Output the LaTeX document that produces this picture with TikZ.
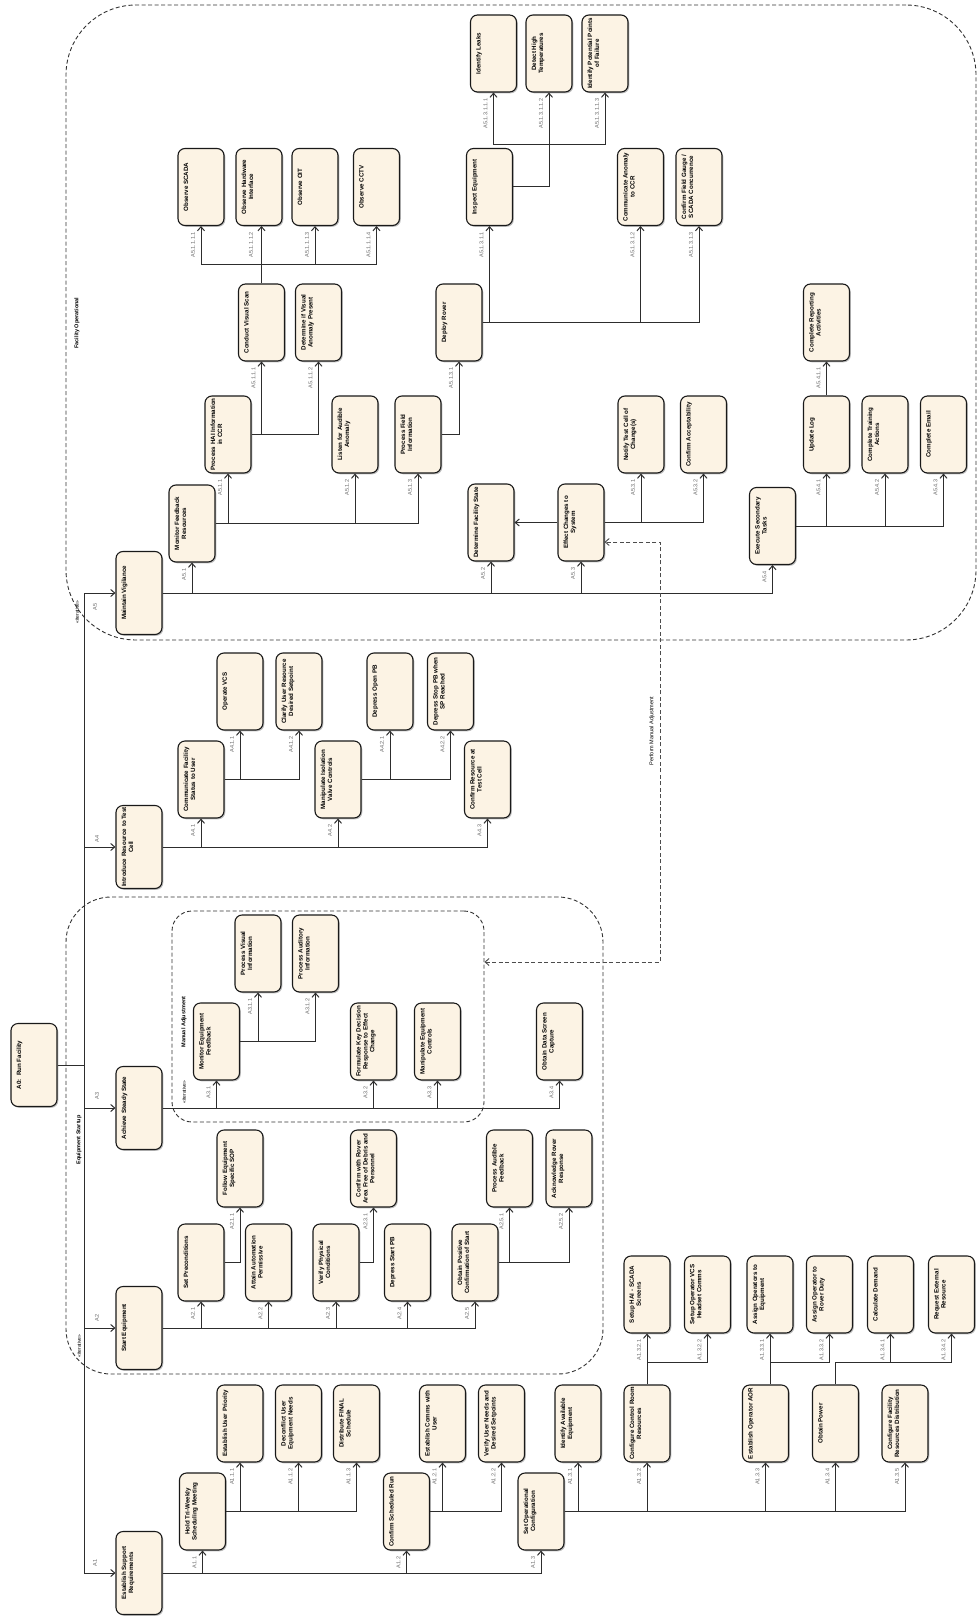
\documentclass[tikz,border=0pt]{standalone}
\usepackage{fontspec}
\setmainfont{Liberation Sans}
\usetikzlibrary{arrows.meta,shadows}
\definecolor{boxfill}{RGB}{252,243,228}
\definecolor{linec}{RGB}{45,45,45}
\definecolor{lblc}{RGB}{105,105,105}
\tikzset{
 actbox/.style={draw=black!90, line width=1.1pt, fill=boxfill, rounded corners=7pt, minimum width=46pt, minimum height=77pt, inner sep=0pt, drop shadow={shadow xshift=1.3pt, shadow yshift=-1.3pt, fill=black, opacity=0.25}},
 topbox/.style={actbox, minimum height=83pt},
 btext/.style={rotate=90, anchor=north, font=\fontsize{6.2}{6.9}\selectfont\bfseries, align=center, inner sep=0pt},
 conn/.style={draw=linec, line width=1pt, -{Straight Barb[length=4pt,width=7pt]}},
 plainln/.style={draw=linec, line width=1pt},
 dashconn/.style={draw=black!70, line width=0.9pt, dash pattern=on 4pt off 2.5pt, {Straight Barb[length=4pt,width=7pt]}-{Straight Barb[length=4pt,width=7pt]}},
 lbl/.style={rotate=90, anchor=east, font=\fontsize{5.5}{6}\selectfont, text=lblc, inner sep=0pt},
 grp/.style={draw=black!80, line width=0.9pt, dash pattern=on 4pt off 2.5pt, inner sep=0pt},
 grplbl/.style={rotate=90, font=\fontsize{5.5}{6}\selectfont\bfseries, inner sep=0pt},
 stereo/.style={rotate=90, font=\fontsize{5}{6}\selectfont, inner sep=0pt},
}
\newcommand\actnode[5]{%
 \node[#1] (#2) at (#3,#4) {};
 \node[btext] (#2t) at ([xshift=6pt]#2.west) {#5};
}
\newcommand\lab[2]{\node[lbl] (L#1) at ([xshift=-8pt,yshift=-6pt]#1.south) {#2};}
\begin{document}
\begin{tikzpicture}[x=1pt,y=-1pt]
\fill[white] (0,0) rectangle (977,1616);
\useasboundingbox (0,0) rectangle (977,1616);

% groups
\node[grp, minimum width=910pt, minimum height=635pt, rounded corners=70pt] (fo) at (521,322.5) {};
\node[grp, minimum width=537pt, minimum height=477pt, rounded corners=45pt] (es) at (334.5,1135.5) {};
\node[grp, minimum width=312pt, minimum height=211pt, rounded corners=20pt] (ma) at (328,1016.5) {};
\node[grplbl] (fol) at (77,323) {Facility Operational};
\node[grplbl] (esl) at (79,1140) {Equipment Startup};
\node[grplbl] (mal) at (184,1022) {Manual Adjustment};
\node[stereo] (fos) at (77,612) {«iterative»};
\node[stereo] (ess) at (79,1346) {«iterative»};
\node[stereo] (mas) at (184,1092) {«iterative»};
\node[rotate=90, font=\fontsize{5.5}{6}\selectfont, inner sep=0pt] (pmal) at (652,731) {Perform Manual Adjustment};

% level 0/1
\actnode{topbox}{a0}{34}{1065}{A0:\ \ Run Facility}
\actnode{topbox}{a5}{139}{593}{Maintain Vigilance}
\actnode{topbox}{a4}{139}{847}{Introduce Resource to Test\\Cell}
\actnode{topbox}{a3}{139}{1108}{Achieve Steady State}
\actnode{topbox}{a2}{139}{1328}{Start Equipment}
\actnode{topbox}{a1}{139}{1573}{Establish Support\\Requirements}

% A5 branch
\actnode{actbox}{a51}{192}{523.5}{Monitor Feedback\\Resources}
\actnode{actbox}{a511}{228}{434.5}{Process HAI Information\\in CCR}
\actnode{actbox}{a512}{355}{434.5}{Listen for Audible\\Anomaly}
\actnode{actbox}{a513}{418}{434.5}{Process Field\\Information}
\actnode{actbox}{a5111}{261.5}{322.5}{Conduct Visual Scan}
\actnode{actbox}{a5112}{318.5}{322.5}{Determine if Visual\\Anomaly Present}
\actnode{actbox}{a51111}{201}{187}{Observe SCADA}
\actnode{actbox}{a51112}{259}{187}{Observe Hardware\\Interface}
\actnode{actbox}{a51113}{315}{187}{Observe OIT}
\actnode{actbox}{a51114}{376.5}{187}{Observe CCTV}
\actnode{actbox}{a5131}{459}{322.5}{Deploy Rover}
\actnode{actbox}{a51311}{489.5}{187}{Inspect Equipment}
\actnode{actbox}{a51312}{640.5}{187}{Communicate Anomaly\\to CCR}
\actnode{actbox}{a51313}{699}{187}{Confirm Field Gauge /\\SCADA Concurrence}
\actnode{actbox}{a513111}{493.5}{53.5}{Identify Leaks}
\actnode{actbox}{a513112}{549}{53.5}{Detect High\\Temperatures}
\actnode{actbox}{a513113}{605}{53.5}{Identify Potential Points\\of Failure}
\actnode{actbox}{a52}{491}{522.5}{Determine Facility State}
\actnode{actbox}{a53}{581}{522.5}{Effect Changes to\\System}
\actnode{actbox}{a531}{641}{434.5}{Notify Test Cell of\\Change(s)}
\actnode{actbox}{a532}{703.5}{434.5}{Confirm Acceptability}
\actnode{actbox}{a54}{772.5}{526}{Execute Secondary\\Tasks}
\actnode{actbox}{a541}{826.5}{434.5}{Update Log}
\actnode{actbox}{a542}{885}{434.5}{Complete Training\\Actions}
\actnode{actbox}{a543}{943.5}{434.5}{Complete Email}
\actnode{actbox}{a5411}{826.5}{322.5}{Complete Reporting\\Activities}

% A4 branch
\actnode{actbox}{a41}{201}{779.5}{Communicate Facility\\Status to User}
\actnode{actbox}{a42}{338}{779.5}{Manipulate Isolation\\Valve Controls}
\actnode{actbox}{a43}{487.5}{779.5}{Confirm Resource at\\Test Cell}
\actnode{actbox}{a411}{240}{691.5}{Operate VCS}
\actnode{actbox}{a412}{299}{691.5}{Clarify User Resource\\Desired Setpoint}
\actnode{actbox}{a421}{390}{691.5}{Depress Open PB}
\actnode{actbox}{a422}{450.5}{691.5}{Depress Stop PB when\\SP Reached}

% A3 branch
\actnode{actbox}{a31}{216.5}{1041.5}{Monitor Equipment\\Feedback}
\actnode{actbox}{a32}{373.5}{1041.5}{Formulate Key Decision\\Response to Effect\\Change}
\actnode{actbox}{a33}{437.5}{1041.5}{Manipulate Equipment\\Controls}
\actnode{actbox}{a34}{559.5}{1041.5}{Obtain Data Screen\\Capture}
\actnode{actbox}{a311}{258}{953.5}{Process Visual\\Information}
\actnode{actbox}{a312}{315.5}{953.5}{Process Auditory\\Information}

% A2 branch
\actnode{actbox}{a21}{201}{1262.5}{Set Preconditions}
\actnode{actbox}{a22}{268.5}{1262.5}{Attain Automation\\Permissive}
\actnode{actbox}{a23}{336}{1262.5}{Verify Physical\\Conditions}
\actnode{actbox}{a24}{407.5}{1262.5}{Depress Start PB}
\actnode{actbox}{a25}{475}{1262.5}{Obtain Positive\\Confirmation of Start}
\actnode{actbox}{a211}{240}{1168.5}{Follow Equipment\\Specific SOP}
\actnode{actbox}{a231}{373.5}{1168.5}{Confirm with Rover\\Area Free of Debris and\\Personnel}
\actnode{actbox}{a251}{509.5}{1168.5}{Process Audible\\Feedback}
\actnode{actbox}{a252}{569}{1168.5}{Acknowledge Rover\\Response}

% A1 branch
\actnode{actbox}{a11}{202.5}{1511.5}{Hold Tri-Weekly\\Scheduling Meeting}
\actnode{actbox}{a12}{406.5}{1511.5}{Confirm Scheduled Run}
\actnode{actbox}{a13}{541}{1511.5}{Set Operational\\Configuration}
\actnode{actbox}{a111}{240}{1423.5}{Establish User Priority}
\actnode{actbox}{a112}{298.5}{1423.5}{Deconflict User\\Equipment Needs}
\actnode{actbox}{a113}{356.5}{1423.5}{Distribute FINAL\\Schedule}
\actnode{actbox}{a121}{442.5}{1423.5}{Establish Comms with\\User}
\actnode{actbox}{a122}{501.5}{1423.5}{Verify User Needs and\\Desired Setpoints}
\actnode{actbox}{a131}{578}{1423.5}{Identify Available\\Equipment}
\actnode{actbox}{a132}{647}{1423.5}{Configure Control Room\\Resources}
\actnode{actbox}{a133}{765.5}{1423.5}{Establish Operator AOR}
\actnode{actbox}{a134}{835.5}{1423.5}{Obtain Power}
\actnode{actbox}{a135}{905}{1423.5}{Configure Facility\\Resources Distribution}
\actnode{actbox}{a1321}{647}{1294.5}{Setup HAI - SCADA\\Screens}
\actnode{actbox}{a1322}{707.5}{1294.5}{Setup Operator VCS\\Headset Comms}
\actnode{actbox}{a1331}{770}{1294.5}{Assign Operators to\\Equipment}
\actnode{actbox}{a1332}{829.5}{1294.5}{Assign Operator to\\Rover Duty}
\actnode{actbox}{a1341}{890.5}{1294.5}{Calculate Demand}
\actnode{actbox}{a1342}{951.5}{1294.5}{Request External\\Resource}

% trunk
\coordinate (trunk) at (84,1065);
\draw[plainln] (a0.east) -- (trunk);
\foreach \n in {a1,a2,a3,a4,a5} \draw[conn] (trunk) |- (\n.west);
\node[lbl, anchor=center] (La5) at (95,607) {A5};
\node[lbl, anchor=center] (La4) at (97,839) {A4};
\node[lbl, anchor=center] (La3) at (97,1096) {A3};
\node[lbl, anchor=center] (La2) at (97,1318) {A2};
\node[lbl, anchor=center] (La1) at (95,1563) {A1};

% A5 connectors
\foreach \c in {a51,a52,a53,a54} \draw[conn] (a5.east) -| (\c.south);
\foreach \c in {a511,a512,a513} \draw[conn] (a51.east) -| (\c.south);
\foreach \c in {a5111,a5112} \draw[conn] (a511.east) -| (\c.south);
\coordinate (b5111) at ([yshift=19pt]a5111.north);
\draw[plainln] (a5111.north) -- (b5111);
\draw[conn] (b5111) -- (b5111 |- a51112.south);
\foreach \c in {a51111,a51113,a51114} \draw[conn] (b5111) -| (\c.south);
\draw[conn] (a513.east) -| (a5131.south);
\foreach \c in {a51311,a51312,a51313} \draw[conn] (a5131.east) -| (\c.south);
\coordinate (b51311) at ([yshift=-52pt]a513112.south);
\draw[conn] (a51311.east) -| (a513112.south);
\foreach \c in {a513111,a513113} \draw[conn] (b51311) -| (\c.south);
\draw[conn] (a53.west) -- (a52.east);
\foreach \c in {a531,a532} \draw[conn] (a53.east) -| (\c.south);
\foreach \c in {a541,a542,a543} \draw[conn] (a54.east) -| (\c.south);
\draw[conn] (a541.north) -- (a541.north |- a5411.south);
\coordinate (pm1) at (660,542);
\coordinate (pm2) at (660,962);
\draw[dashconn] (ma.east |- pm2) -- (pm2) -- (pm1) -- (a53.east |- pm1);

% A4 connectors
\foreach \c in {a41,a42,a43} \draw[conn] (a4.east) -| (\c.south);
\foreach \c in {a411,a412} \draw[conn] (a41.east) -| (\c.south);
\foreach \c in {a421,a422} \draw[conn] (a42.east) -| (\c.south);

% A3 connectors
\foreach \c in {a31,a32,a33,a34} \draw[conn] (a3.east) -| (\c.south);
\foreach \c in {a311,a312} \draw[conn] (a31.east) -| (\c.south);

% A2 connectors
\foreach \c in {a21,a22,a23,a24,a25} \draw[conn] (a2.east) -| (\c.south);
\draw[conn] (a21.east) -| (a211.south);
\draw[conn] (a23.east) -| (a231.south);
\foreach \c in {a251,a252} \draw[conn] (a25.east) -| (\c.south);

% A1 connectors
\foreach \c in {a11,a12,a13} \draw[conn] (a1.east) -| (\c.south);
\foreach \c in {a111,a112,a113} \draw[conn] (a11.east) -| (\c.south);
\foreach \c in {a121,a122} \draw[conn] (a12.east) -| (\c.south);
\foreach \c in {a131,a132,a133,a134,a135} \draw[conn] (a13.east) -| (\c.south);
\coordinate (b132) at ([yshift=22pt]a132.north);
\draw[conn] (a132.north) -- (a1321.south);
\draw[conn] (b132) -| (a1322.south);
\coordinate (b133) at ([yshift=22pt]a1331.south |- a133.north);
\draw[conn] (a1331.south |- a133.north) -- (a1331.south);
\draw[conn] (b133) -| (a1332.south);
\coordinate (b134) at ([yshift=22pt]a134.north);
\draw[plainln] (a134.north) -- (b134);
\foreach \c in {a1341,a1342} \draw[conn] (b134) -| (\c.south);

% labels
\lab{a51}{A5.1}\lab{a511}{A5.1.1}\lab{a512}{A5.1.2}\lab{a513}{A5.1.3}
\lab{a5111}{A5.1.1.1}\lab{a5112}{A5.1.1.2}
\lab{a51111}{A5.1.1.1.1}\lab{a51112}{A5.1.1.1.2}\lab{a51113}{A5.1.1.1.3}\lab{a51114}{A5.1.1.1.4}
\lab{a5131}{A5.1.3.1}\lab{a51311}{A5.1.3.1.1}\lab{a51312}{A5.1.3.1.2}\lab{a51313}{A5.1.3.1.3}
\lab{a513111}{A5.1.3.1.1.1}\lab{a513112}{A5.1.3.1.1.2}\lab{a513113}{A5.1.3.1.1.3}
\lab{a52}{A5.2}\lab{a53}{A5.3}\lab{a531}{A5.3.1}\lab{a532}{A5.3.2}
\lab{a54}{A5.4}\lab{a541}{A5.4.1}\lab{a542}{A5.4.2}\lab{a543}{A5.4.3}\lab{a5411}{A5.4.1.1}
\lab{a41}{A4.1}\lab{a42}{A4.2}\lab{a43}{A4.3}
\lab{a411}{A4.1.1}\lab{a412}{A4.1.2}\lab{a421}{A4.2.1}\lab{a422}{A4.2.2}
\lab{a31}{A3.1}\lab{a32}{A3.2}\lab{a33}{A3.3}\lab{a34}{A3.4}\lab{a311}{A3.1.1}\lab{a312}{A3.1.2}
\lab{a21}{A2.1}\lab{a22}{A2.2}\lab{a23}{A2.3}\lab{a24}{A2.4}\lab{a25}{A2.5}
\lab{a211}{A2.1.1}\lab{a231}{A2.3.1}\lab{a251}{A2.5.1}\lab{a252}{A2.5.2}
\lab{a11}{A1.1}\lab{a12}{A1.2}\lab{a13}{A1.3}
\lab{a111}{A1.1.1}\lab{a112}{A1.1.2}\lab{a113}{A1.1.3}\lab{a121}{A1.2.1}\lab{a122}{A1.2.2}
\lab{a131}{A1.3.1}\lab{a132}{A1.3.2}\lab{a133}{A1.3.3}\lab{a134}{A1.3.4}\lab{a135}{A1.3.5}
\lab{a1321}{A1.3.2.1}\lab{a1322}{A1.3.2.2}\lab{a1331}{A1.3.3.1}\lab{a1332}{A1.3.3.2}
\lab{a1341}{A1.3.4.1}\lab{a1342}{A1.3.4.2}
\end{tikzpicture}
\end{document}
